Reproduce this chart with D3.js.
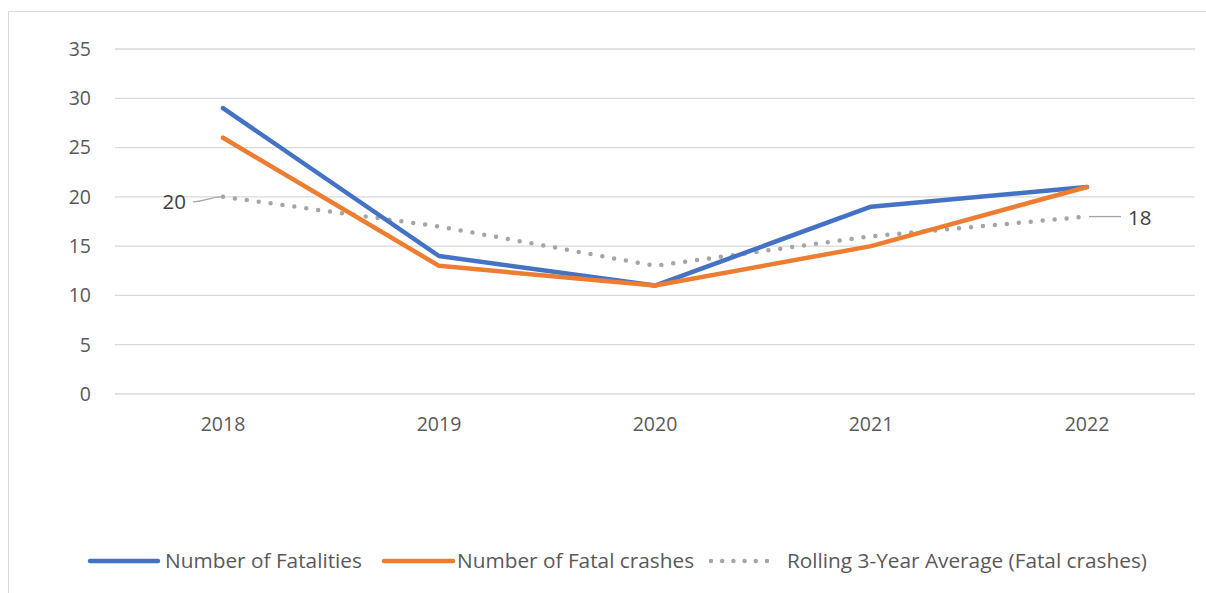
<!DOCTYPE html>
<html>
<head>
<meta charset="utf-8">
<script src="https://cdn.jsdelivr.net/npm/d3@7"></script>
<style>
  body { margin: 0; background: #fff; }
  svg { font-family: "Open Sans", Lato, sans-serif; }
</style>
</head>
<body>
<svg width="1206" height="593"></svg>
<script>
const years = ["2018", "2019", "2020", "2021", "2022"];
const fatalities = [29, 14, 11, 19, 21];
const fatalCrashes = [26, 13, 11, 15, 21];
const rollingAvg = [20, 17, 13, 16, 18];
const yTicks = [0, 5, 10, 15, 20, 25, 30, 35];

const svg = d3.select("svg");

// chart frame
svg.append("rect")
    .attr("x", 8.5).attr("y", 11.5)
    .attr("width", 1210).attr("height", 600)
    .attr("fill", "none")
    .attr("stroke", "#d9d9d9");

const x = d3.scaleBand().domain(years).range([115, 1195]);
const y = d3.scaleLinear().domain([0, 35]).range([394, 49]);

// gridlines
svg.append("g")
    .selectAll("line")
    .data(yTicks)
    .enter().append("line")
    .attr("x1", 115).attr("x2", 1195)
    .attr("y1", d => y(d)).attr("y2", d => y(d))
    .attr("stroke", "#d9d9d9")
    .attr("stroke-width", 1.3);

// y labels
svg.append("g")
    .selectAll("text")
    .data(yTicks)
    .enter().append("text")
    .attr("x", 91)
    .attr("y", d => y(d))
    .attr("dy", "0.35em")
    .attr("text-anchor", "end")
    .attr("font-size", 19.5)
    .attr("fill", "#595959")
    .text(d => d);

// x labels
svg.append("g")
    .selectAll("text")
    .data(years)
    .enter().append("text")
    .attr("x", d => x(d) + x.bandwidth() / 2)
    .attr("y", 431)
    .attr("text-anchor", "middle")
    .attr("font-size", 19.5)
    .attr("fill", "#595959")
    .text(d => d);

const cx = (d, i) => x(years[i]) + x.bandwidth() / 2;
const line = d3.line().x(cx).y(d => y(d));

const series = [
    {name: "Number of Fatalities", values: fatalities, color: "#4472c4", width: 4.5, dash: null},
    {name: "Number of Fatal crashes", values: fatalCrashes, color: "#ed7d31", width: 4.5, dash: null},
    {name: "Rolling 3-Year Average (Fatal crashes)", values: rollingAvg, color: "#a5a5a5", width: 4.5, dash: "0 12"}
];

// draw rolling average first (behind), then the solid ones
[series[2], series[0], series[1]].forEach(s => {
    svg.append("path")
        .datum(s.values)
        .attr("fill", "none")
        .attr("stroke", s.color)
        .attr("stroke-width", s.width)
        .attr("stroke-linecap", "round")
        .attr("stroke-linejoin", "round")
        .attr("stroke-dasharray", s.dash)
        .attr("d", line);
});

// data labels for first and last rolling average points, with leader lines
const first = {px: cx(null, 0), py: y(rollingAvg[0])};
const last = {px: cx(null, 4), py: y(rollingAvg[4])};

svg.append("path")
    .attr("d", `M${first.px - 30},${first.py + 5} C${first.px - 20},${first.py + 5} ${first.px - 12},${first.py} ${first.px - 2},${first.py}`)
    .attr("fill", "none").attr("stroke", "#a5a5a5").attr("stroke-width", 1.3);
svg.append("text")
    .attr("x", first.px - 37).attr("y", first.py + 5)
    .attr("dy", "0.35em")
    .attr("text-anchor", "end")
    .attr("font-size", 20.5).attr("fill", "#404040")
    .text(rollingAvg[0]);

svg.append("path")
    .attr("d", `M${last.px + 2},${last.py} L${last.px + 34},${last.py}`)
    .attr("fill", "none").attr("stroke", "#a5a5a5").attr("stroke-width", 1.3);
svg.append("text")
    .attr("x", last.px + 41).attr("y", last.py + 1)
    .attr("dy", "0.35em")
    .attr("font-size", 20.5).attr("fill", "#404040")
    .text(rollingAvg[4]);

// legend
const legendPos = [
    {x1: 90, x2: 158, tx: 165},
    {x1: 384, x2: 453, tx: 457},
    {x1: 711, x2: 767, tx: 787}
];
const legend = svg.append("g");
series.forEach((s, i) => {
    const p = legendPos[i];
    legend.append("line")
        .attr("x1", p.x1).attr("x2", p.x2)
        .attr("y1", 561).attr("y2", 561)
        .attr("stroke", s.color)
        .attr("stroke-width", 4.5)
        .attr("stroke-linecap", "round")
        .attr("stroke-dasharray", s.dash ? "0 11.2" : null);
    legend.append("text")
        .attr("x", p.tx).attr("y", 561)
        .attr("dy", "0.35em")
        .attr("font-size", 20.8)
        .attr("fill", "#595959")
        .text(s.name);
});
</script>
</body>
</html>
